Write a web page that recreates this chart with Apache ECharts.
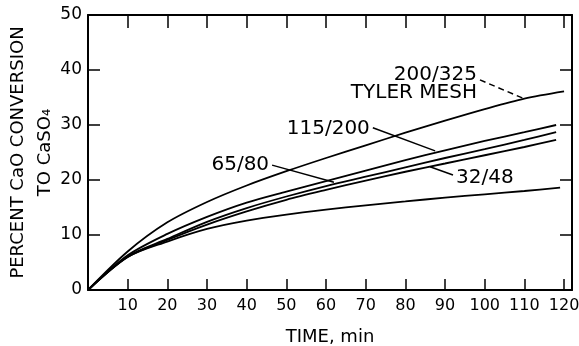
<!DOCTYPE html>
<html>
<head>
<meta charset="utf-8">
<script src="https://cdn.jsdelivr.net/npm/echarts@6/dist/echarts.min.js"></script>
<style>
  html, body { margin: 0; padding: 0; background: #fff; }
  #chart { width: 579px; height: 346px; }
</style>
</head>
<body>
<div id="chart"></div>
<script>
// ---- data (time in min, percent CaO conversion) ----
const timeTop   = [0, 10, 20, 30, 40, 50, 60, 70, 80, 90, 100, 110, 120];
const mesh200_325 = [0, 7.0, 12.3, 16.0, 19.0, 21.6, 24.0, 26.3, 28.6, 30.8, 32.9, 34.8, 36.1];

const timeMid   = [0, 10, 20, 30, 40, 50, 60, 70, 80, 90, 100, 110, 118];
const mesh115_200 = [0, 6.3, 10.2, 13.3, 15.9, 17.9, 19.8, 21.7, 23.6, 25.4, 27.1, 28.7, 30.0];
const mesh65_80   = [0, 6.1, 9.3, 12.4, 14.9, 17.0, 18.9, 20.6, 22.3, 24.0, 25.6, 27.3, 28.7];
const mesh32_48   = [0, 6.0, 9.1, 11.9, 14.3, 16.4, 18.2, 19.9, 21.5, 23.0, 24.5, 26.0, 27.3];

const timeLow   = [0, 10, 20, 30, 40, 50, 60, 70, 80, 90, 100, 110, 119];
const meshCoarse  = [0, 6.0, 8.8, 11.1, 12.6, 13.7, 14.6, 15.4, 16.1, 16.8, 17.4, 18.0, 18.6];

// annotation labels: [text, label anchor [t, v], leader end [t, v]]
const labelTexts  = ['200/325\nTYLER MESH', '115/200', '65/80', '32/48'];
const labelAnchor = [[98.8, 38.2], [71.8, 29.5], [46.4, 22.7], [92.0, 20.9]];
const leaderEnd   = [[110.2, 34.7], [87.5, 25.3], [62.0, 19.6], [86.2, 22.4]];
const labelSide   = ['left', 'left', 'left', 'right'];
const labelShiftY = [4, 1, 0, 3];

const xTickStep = 10, xMax = 122;
const yTicks = [0, 10, 20, 30, 40, 50];

const FONT = 'DejaVu Sans';
const pairs = (t, v) => t.map((x, i) => [x, v[i]]);

function annotation(i, dashed) {
  return {
    markPoint: {
      silent: true,
      symbol: 'circle', symbolSize: 0,
      label: {
        show: true, position: labelSide[i], distance: 3,
        offset: [0, labelShiftY[i]],
        formatter: labelTexts[i], color: '#000',
        fontFamily: FONT, fontSize: 20, lineHeight: 18,
        align: labelSide[i] === 'left' ? 'right' : 'left'
      },
      data: [{ coord: labelAnchor[i] }]
    },
    markLine: {
      silent: true, symbol: ['none', 'none'],
      label: { show: false },
      lineStyle: { color: '#000', width: 1.5, type: dashed ? [6, 4] : 'solid' },
      emphasis: { disabled: true },
      data: [[{ coord: labelAnchor[i] }, { coord: leaderEnd[i] }]]
    }
  };
}

function curve(name, t, v, extra) {
  return Object.assign({
    name, type: 'line', data: pairs(t, v), smooth: 0.3,
    symbol: 'none', showSymbol: false,
    lineStyle: { color: '#000', width: 1.8 },
    itemStyle: { color: '#000' },
    z: 3
  }, extra || {});
}

const chart = echarts.init(document.getElementById('chart'), null, { renderer: 'canvas' });

const axisLine = () => ({ show: true, onZero: false, lineStyle: { color: '#000', width: 2 } });
const tick = len => ({ show: true, inside: true, length: len, lineStyle: { color: '#000', width: 1.5 } });

chart.setOption({
  animation: false,
  backgroundColor: '#fff',
  grid: { left: 88, right: 7, top: 15, bottom: 56, containLabel: false, outerBoundsMode: 'none' },
  xAxis: [{
    type: 'value', position: 'bottom', min: 0, max: xMax, interval: xTickStep,
    axisLine: axisLine(),
    axisTick: tick(11),
    axisLabel: {
      color: '#000', fontFamily: FONT, fontSize: 16, margin: 8,
      formatter: v => (v > 0 && v % xTickStep === 0) ? String(v) : '',
      showMinLabel: false
    },
    splitLine: { show: false },
    name: 'TIME, min', nameLocation: 'middle', nameGap: 38, nameMoveOverlap: false,
    nameTextStyle: { color: '#000', fontFamily: FONT, fontSize: 18 }
  }, {
    type: 'value', position: 'top', min: 0, max: xMax, interval: xTickStep,
    axisLine: axisLine(),
    axisTick: tick(13),
    axisLabel: { show: false },
    splitLine: { show: false }
  }],
  yAxis: [{
    type: 'value', position: 'left', min: yTicks[0], max: yTicks[yTicks.length - 1], interval: 10,
    axisLine: axisLine(),
    axisTick: tick(12),
    axisLabel: { color: '#000', fontFamily: FONT, fontSize: 17, margin: 6 },
    splitLine: { show: false },
    name: 'PERCENT CaO CONVERSION\nTO CaSO\u2084', nameLocation: 'middle', nameGap: 29, nameMoveOverlap: false,
    nameTextStyle: { color: '#000', fontFamily: FONT, fontSize: 18, lineHeight: 27, align: 'center' }
  }, {
    type: 'value', position: 'right', min: yTicks[0], max: yTicks[yTicks.length - 1], interval: 10,
    axisLine: axisLine(),
    axisTick: tick(12),
    axisLabel: { show: false },
    splitLine: { show: false }
  }],
  series: [
    curve('200/325', timeTop, mesh200_325, annotation(0, true)),
    curve('115/200', timeMid, mesh115_200, annotation(1, false)),
    curve('65/80', timeMid, mesh65_80, annotation(2, false)),
    curve('32/48', timeMid, mesh32_48, annotation(3, false)),
    curve('coarsest', timeLow, meshCoarse)
  ]
});
</script>
</body>
</html>
